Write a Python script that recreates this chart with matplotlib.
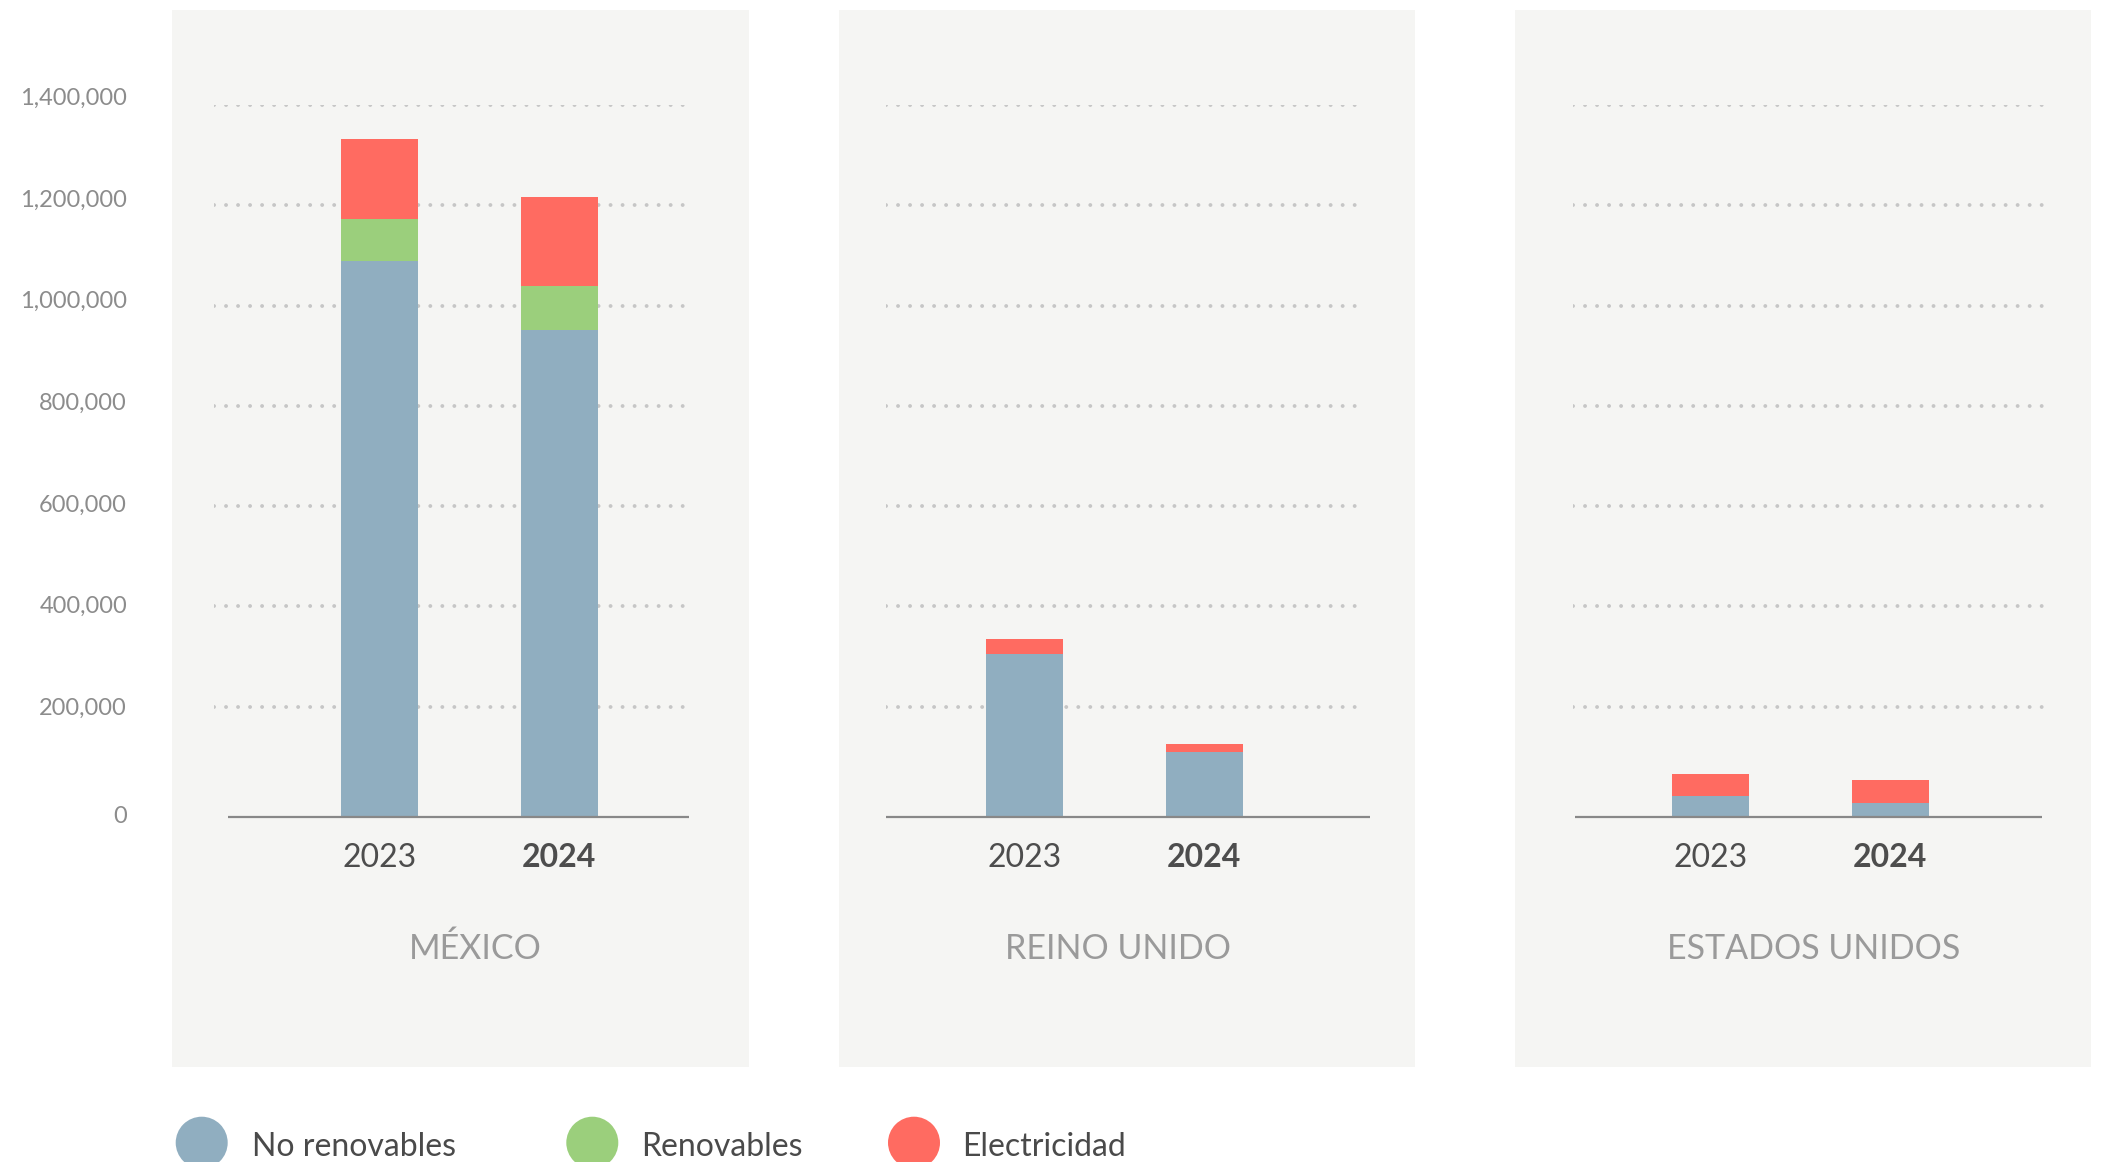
#!/usr/bin/env python3
"""
Consumo de energía por tipo (2023 vs 2024) para México, Reino Unido y Estados Unidos.
Tres paneles de barras apiladas con una leyenda común al pie.
"""

import matplotlib
matplotlib.use("Agg")
import matplotlib.pyplot as plt
from matplotlib.patches import Rectangle, Ellipse
from matplotlib.transforms import blended_transform_factory


# Datos
countries = ["MÉXICO", "REINO UNIDO", "ESTADOS UNIDOS"]
years = ["2023", "2024"]
series_names = ["No renovables", "Renovables", "Electricidad"]

no_renovables = [[1093000, 958000], [320000, 127000], [41000, 27000]]
renovables = [[82000, 86000], [0, 0], [0, 0]]
electricidad = [[158000, 175000], [29000, 15000], [43000, 45000]]

y_ticks = [0, 200000, 400000, 600000, 800000, 1000000, 1200000, 1400000]

# Estilo
COLORS = ["#90aec0", "#9bcf7c", "#ff6b61"]
PANEL_BG = "#f5f5f3"
GRID_COLOR = "#c6c6c6"
BASE_COLOR = "#888888"
W, H = 2102, 1162

# Geometría en píxeles
PANEL_X = [(172, 749), (839, 1415), (1515, 2091)]
PANEL_Y = (10, 1067)
BAR0_X = [379.5, 1024.5, 1710.5]
BAR_GAP = 179.5
BAR_W = 77
GRID_X = [(214, 689), (886, 1362), (1573, 2048)]
BASE_X = [(228, 689), (886, 1370), (1575, 2042)]
TITLE_X = [475, 1118, 1814]
Y_TOP, Y_ZERO = 105, 816.5
GRID_ZERO = 807  # la cuadrícula queda un poco por encima de la línea base
LEGEND_CIRCLE_X = [201.7, 592.3, 914]
LEGEND_TEXT_X = [252, 641, 962]


def fx(px):
    return px / W


def fy(py):
    return 1 - py / H


def draw_panel(fig, i):
    c0 = BAR0_X[i]
    left = min(GRID_X[i][0], BASE_X[i][0])
    right = max(GRID_X[i][1], BASE_X[i][1])
    rect = [fx(left), fy(Y_ZERO), (right - left) / W, (Y_ZERO - Y_TOP) / H]
    xlim = ((left - c0) / BAR_GAP, (right - c0) / BAR_GAP)

    # fondo del panel
    pl, pr = PANEL_X[i]
    fig.add_artist(Rectangle((fx(pl), fy(PANEL_Y[1])), (pr - pl) / W,
                             (PANEL_Y[1] - PANEL_Y[0]) / H,
                             transform=fig.transFigure, facecolor=PANEL_BG,
                             edgecolor="none", zorder=-1))

    # ejes de la cuadrícula (detrás de las barras)
    gax = fig.add_axes(rect, zorder=0)
    gax.set_facecolor("none")
    gax.axis("off")
    gax.set_xlim(*xlim)
    ymax = y_ticks[-1]
    gax.set_ylim(-(Y_ZERO - GRID_ZERO) * ymax / (GRID_ZERO - Y_TOP), ymax)
    gl = (GRID_X[i][0] - c0) / BAR_GAP
    gr = (GRID_X[i][1] - c0) / BAR_GAP
    gax.hlines(y_ticks[1:], gl, gr, colors=GRID_COLOR, linewidth=2.8,
               linestyles=[(0, (0.01, 3.08))], capstyle="round")

    ax = fig.add_axes(rect, zorder=1)
    ax.set_facecolor("none")
    ax.set_xlim(*xlim)
    ax.set_ylim(0, ymax)
    for s in ax.spines.values():
        s.set_visible(False)
    ax.set_xticks([])
    ax.set_yticks([])

    # barras apiladas
    x = [0, 1]
    width = BAR_W / BAR_GAP
    bottom = [0, 0]
    for vals, color in zip([no_renovables[i], renovables[i], electricidad[i]], COLORS):
        ax.bar(x, vals, width=width, bottom=bottom, color=color,
               linewidth=0, zorder=2)
        bottom = [b + v for b, v in zip(bottom, vals)]

    # línea base
    bl = (BASE_X[i][0] - c0) / BAR_GAP
    br = (BASE_X[i][1] - c0) / BAR_GAP
    ax.hlines(0, bl, br, colors=BASE_COLOR, linewidth=1.6, zorder=3,
              clip_on=False)

    # etiquetas de año
    trans = blended_transform_factory(ax.transData, fig.transFigure)
    for xi, yr in zip(x, years):
        ax.text(xi, fy(867), yr, transform=trans, ha="center", va="baseline",
                fontsize=23, color="#4d4d4d",
                fontweight="bold" if yr == "2024" else "normal")

    fig.text(fx(TITLE_X[i]), fy(959), countries[i], ha="center",
             va="baseline", fontsize=24.5, color="#9a9a9a")
    return ax


def main():
    plt.rcParams["font.family"] = ["Lato", "DejaVu Sans"]
    fig = plt.figure(figsize=(W / 100, H / 100), dpi=100)
    fig.patch.set_facecolor("white")

    axes = [draw_panel(fig, i) for i in range(len(countries))]

    # etiquetas del eje Y a la izquierda del primer panel
    ax0 = axes[0]
    pad_pt = (min(GRID_X[0][0], BASE_X[0][0]) - 127) * 0.72
    for v in y_ticks:
        dy = -5 if v == 0 else 0
        ax0.annotate(f"{v:,}", xy=(0, v), xycoords=("axes fraction", "data"),
                     xytext=(-pad_pt, dy), textcoords="offset points",
                     ha="right", va="baseline", fontsize=17, color="#8c8c8c",
                     annotation_clip=False)

    # leyenda
    for name, color, cx, tx in zip(series_names, COLORS, LEGEND_CIRCLE_X,
                                   LEGEND_TEXT_X):
        fig.add_artist(Ellipse((fx(cx), fy(1142.7)), 52 / W, 52 / H,
                               transform=fig.transFigure, facecolor=color,
                               edgecolor="none"))
        fig.text(fx(tx), fy(1155.5), name, ha="left", va="baseline",
                 fontsize=23, color="#4a4a4a")

    fig.savefig("out.png", dpi=100, facecolor="white")


if __name__ == "__main__":
    main()
